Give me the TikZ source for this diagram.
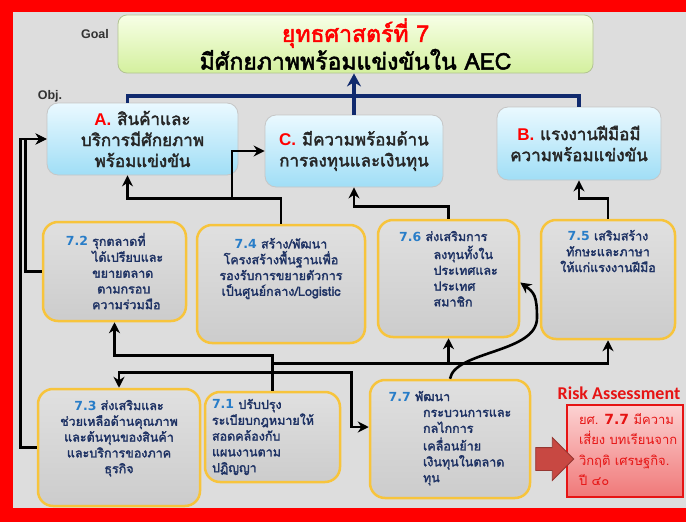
\documentclass[tikz,border=0pt]{standalone}
\usepackage{fontspec}
\setmainfont{Liberation Sans}
\newfontfamily\thaifont[Script=Thai, AutoFakeBold=2.2]{Loma}
\newfontfamily\numfont{DejaVu Sans}
\newfontfamily\riskfont{Carlito}
\usepackage{tikz}
\usetikzlibrary{arrows.meta, positioning, calc, shapes.arrows}
\definecolor{FrameRed}{RGB}{255,0,0}
\definecolor{BgGray}{RGB}{221,221,221}
\definecolor{GoalTop}{RGB}{247,255,230}
\definecolor{GoalBot}{RGB}{212,240,158}
\definecolor{ObjTop}{RGB}{234,249,255}
\definecolor{ObjBot}{RGB}{160,222,246}
\definecolor{StratTop}{RGB}{224,224,224}
\definecolor{StratBot}{RGB}{204,204,204}
\definecolor{GoldLine}{RGB}{247,196,60}
\definecolor{NavyLine}{RGB}{16,42,110}
\definecolor{NumBlue}{RGB}{40,125,200}
\definecolor{TextNavy}{RGB}{30,50,100}
\definecolor{RiskRed}{RGB}{230,20,20}
\definecolor{RiskTop}{RGB}{252,210,210}
\definecolor{RiskBot}{RGB}{240,120,120}
\definecolor{ArrowRed}{RGB}{200,72,66}
\newcommand{\snum}[1]{{\numfont\bfseries\color{NumBlue}#1}}
\newcommand{\objtag}[1]{{\normalfont\bfseries\color{FrameRed}#1}}
\newcommand{\boxtxt}[3]{\begin{minipage}[c][#2pt][t]{#1pt}#3\end{minipage}}

\begin{document}
\begin{tikzpicture}[x=1pt, y=-1pt,
    tag/.style={font=\bfseries\fontsize{12.5}{14}\selectfont, text=black!80},
    goalbox/.style={draw=GoalBot!60!gray, line width=0.8pt, rounded corners=9pt, top color=GoalTop, bottom color=GoalBot,
        minimum width=475pt, minimum height=52pt, align=center, font=\thaifont\bfseries\fontsize{23}{26}\selectfont},
    objbox/.style={draw=gray!45, line width=0.8pt, rounded corners=11pt, top color=ObjTop, bottom color=ObjBot,
        align=center, text=black!85, font=\thaifont\bfseries\fontsize{17}{21}\selectfont, inner sep=0pt},
    stratbox/.style={draw=GoldLine, line width=2.5pt, rounded corners=15pt, top color=StratTop, bottom color=StratBot,
        text=TextNavy, font=\thaifont\bfseries\fontsize{12.5}{15.8}\selectfont, inner sep=0pt},
    riskbox/.style={draw=RiskRed, line width=1.5pt, top color=RiskTop, bottom color=RiskBot,
        text=RiskRed, font=\thaifont\fontsize{13}{20.5}\selectfont, inner sep=0pt},
    link/.style={line width=2.6pt, -{Stealth[length=11pt,width=11pt]}},
    navylink/.style={line width=3.6pt, draw=NavyLine}]

\useasboundingbox (0,0) rectangle (686,522);
\fill[FrameRed] (0,0) rectangle (686,522);
\fill[BgGray] (13,12) rectangle (686,508);

% goal and objectives
\node[tag] (goallbl) at (95,34) {Goal};
\node[tag] (objlbl) at (50,96) {Obj.};
\node[goalbox] (goal) at (355.5,44) {{\color{FrameRed}ยุทธศาสตร์ที่ 7}\\ มีศักยภาพพร้อมแข่งขันใน AEC};

\node[objbox, minimum width=191pt, minimum height=72pt] (A) at (142.5,139) {\objtag{A.} สินค้าและ\\ บริการมีศักยภาพ\\ พร้อมแข่งขัน};
\node[objbox, minimum width=178pt, minimum height=72pt] (C) at (354,151) {\objtag{C.} มีความพร้อมด้าน\\ การลงทุนและเงินทุน};
\node[objbox, minimum width=164pt, minimum height=73pt] (B) at (579,143.5) {\objtag{B.} แรงงานฝีมือมี\\ ความพร้อมแข่งขัน};

% strategies
\node[stratbox, minimum width=143pt, minimum height=99pt] (s72) at (114.5,271.5)
    {\boxtxt{127}{77}{\centering\snum{7.2} \begin{tabular}[t]{@{}l@{}}รุกตลาดที่\\ ได้เปรียบและ\\ ขยายตลาด\\ \hspace{5pt}ตามกรอบ\\ ความร่วมมือ\end{tabular}}};
\node[stratbox, minimum width=168pt, minimum height=118pt] (s74) at (281,284)
    {\boxtxt{160}{92}{\centering\snum{7.4} สร้าง/พัฒนา\\ โครงสร้างพื้นฐานเพื่อ\\ รองรับการขยายตัวการ\\ เป็นศูนย์กลาง/Logistic}};
\node[stratbox, minimum width=141pt, minimum height=117pt] (s76) at (448.5,278.5)
    {\boxtxt{129}{97}{\centering\snum{7.6} \begin{tabular}[t]{@{}l@{}}ส่งเสริมการ\\ \hspace{8pt}ลงทุนทั้งใน\\ \hspace{8pt}ประเทศและ\\ \hspace{8pt}ประเทศ\\ \hspace{8pt}สมาชิก\end{tabular}}};
\node[stratbox, minimum width=134pt, minimum height=119pt] (s75) at (608,279.5)
    {\boxtxt{128}{99}{\centering\snum{7.5} เสริมสร้าง\\ ทักษะและภาษา\\ ให้แก่แรงงานฝีมือ}};
\node[stratbox, minimum width=162pt, minimum height=117pt] (s73) at (119,447.5)
    {\boxtxt{154}{95}{\centering\snum{7.3} ส่งเสริมและ\\ ช่วยเหลือด้านคุณภาพ\\ และต้นทุนของสินค้า\\ และบริการของภาค\\ ธุรกิจ}};
\node[stratbox, minimum width=135pt, minimum height=90pt] (s71) at (272.5,437)
    {\boxtxt{121}{76}{\raggedright\snum{7.1} ปรับปรุง\\ ระเบียบกฎหมายให้\\ สอดคล้องกับ\\ แผนงานตาม\\ ปฏิญญา}};
\node[stratbox, minimum width=160pt, minimum height=118pt] (s77) at (450,439)
    {\boxtxt{146}{98}{\centering\snum{7.7} \begin{tabular}[t]{@{}l@{}}พัฒนา\\ \hspace{8pt}กระบวนการและ\\ \hspace{8pt}กลไกการ\\ \hspace{8pt}เคลื่อนย้าย\\ \hspace{8pt}เงินทุนในตลาด\\ \hspace{8pt}ทุน\end{tabular}}};

% risk
\node[font=\riskfont\bfseries\fontsize{18}{20}\selectfont, text=RiskRed] (risklbl) at (619,393) {Risk Assessment};
\node[riskbox, minimum width=116pt, minimum height=92pt] (risk) at (625,451)
    {\boxtxt{104}{82}{\hspace*{6pt}\begin{tabular}[t]{@{}l@{}}ยศ. {\numfont\bfseries\fontsize{14}{20}\selectfont 7.7} มีความ\\ เสี่ยง บทเรียนจาก\\ วิกฤติ เศรษฐกิจ.\\ ปี ๔๐\end{tabular}}};
\node[single arrow, fill=ArrowRed, draw=ArrowRed!75!black, line width=0.8pt, inner xsep=0pt, inner ysep=11pt,
    single arrow head extend=10pt, minimum height=38pt] (riskarrow) at (549,459) {};

% goal links
\coordinate (hub) at (354,96);
\draw[navylink] ($(A.north)+(-15,0)$) |- (hub) -| (B.north);
\draw[navylink] (C.north) -- (hub);
\draw[navylink, -{Stealth[length=13pt,width=14pt]}] (hub) -- (hub |- goal.south);

% strategy links
\draw[link] (s74.north) -- ++(0,-25) -| ($(A.south)+(-15,0)$);
\draw[link] ($(s74.north)+(-49,-25)$) |- (C.west);
\draw[link] (s76.north) -- ++(0,-12) -| (C.south);
\draw[link] (s75.north) -- ++(0,-20) -| (B.south);
\draw[link] (s72.west) -- ++(-16,0) |- (A.west);
\draw[link] (s73.west) -- ++(-16,0) |- (A.west);
\draw[link] (s71.north) -- ++(0,-35) -| (s72.south);
\draw[link] (s71.north) -- ++(0,-18) -| (s73.north);
\draw[link] (s71.north) -- ++(0,-27) -| (s76.south);
\draw[link] (s71.north) -- ++(0,-27) -| (s75.south);
\draw[link] (s71.north) -- ++(0,-18) -| ($(s77.west)+(-17,-12)$) -- ($(s77.west)+(0,-12)$);
\draw[link] (s77.north) .. controls +(5,-28) and +(0,35) .. (537,318) .. controls +(0,-22) and +(14,10) .. ($(s76.east)+(0,4)$);
\end{tikzpicture}
\end{document}
